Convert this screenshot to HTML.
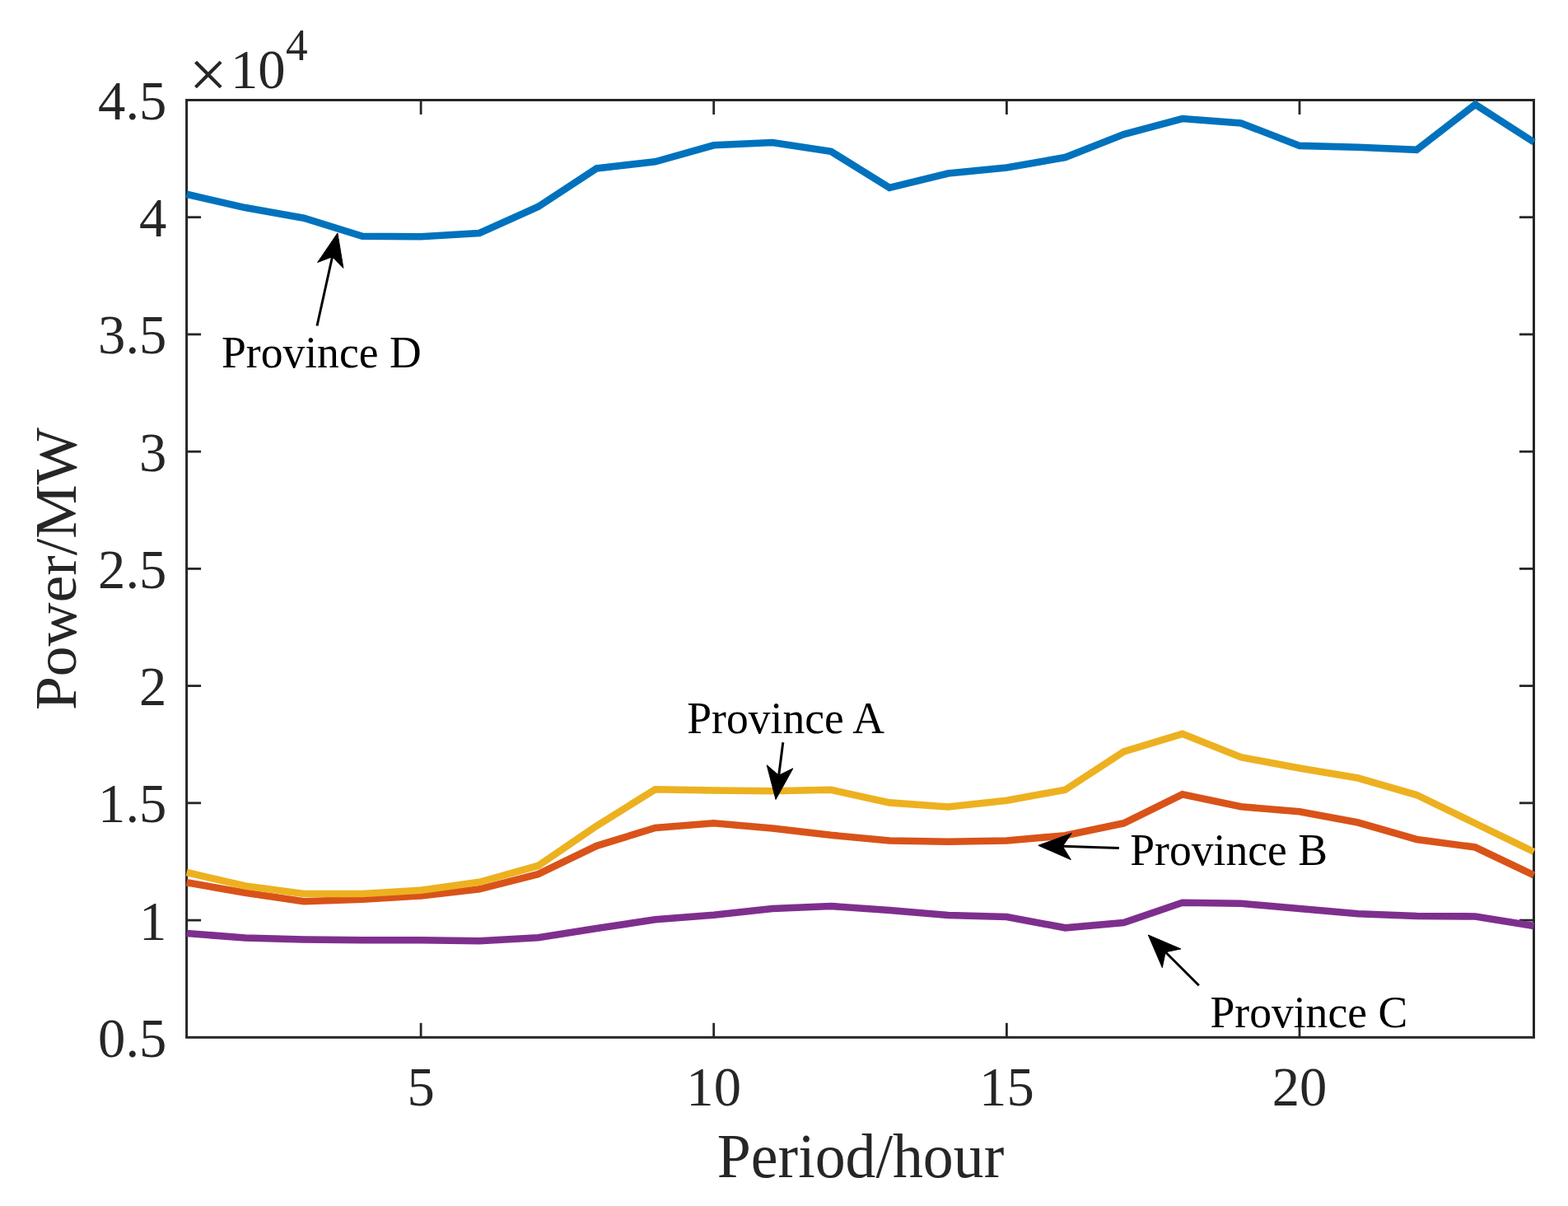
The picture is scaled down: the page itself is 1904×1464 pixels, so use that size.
<!DOCTYPE html>
<html lang="en"><head><meta charset="utf-8"><title>Power by province</title>
<style>html,body{margin:0;padding:0;background:#fff;}body{width:1904px;height:1464px;overflow:hidden;}svg{display:block;}text{font-family:"Liberation Serif","Times New Roman",serif;}</style>
</head><body>
<svg width="1904" height="1464" viewBox="0 0 1904 1464">
<rect x="0" y="0" width="1904" height="1464" fill="#fff"/>
<g stroke="#262626" stroke-width="3" fill="none" stroke-linecap="butt"><rect x="226.6" y="121.5" width="1635.9" height="1137.8"/><line x1="511.1" y1="1259.3" x2="511.1" y2="1241.8" stroke-width="2.8"/><line x1="511.1" y1="121.5" x2="511.1" y2="139.0" stroke-width="2.8"/><line x1="866.7" y1="1259.3" x2="866.7" y2="1241.8" stroke-width="2.8"/><line x1="866.7" y1="121.5" x2="866.7" y2="139.0" stroke-width="2.8"/><line x1="1222.4" y1="1259.3" x2="1222.4" y2="1241.8" stroke-width="2.8"/><line x1="1222.4" y1="121.5" x2="1222.4" y2="139.0" stroke-width="2.8"/><line x1="1578.0" y1="1259.3" x2="1578.0" y2="1241.8" stroke-width="2.8"/><line x1="1578.0" y1="121.5" x2="1578.0" y2="139.0" stroke-width="2.8"/><line x1="226.6" y1="263.7" x2="244.1" y2="263.7" stroke-width="2.8"/><line x1="1862.5" y1="263.7" x2="1845.0" y2="263.7" stroke-width="2.8"/><line x1="226.6" y1="405.9" x2="244.1" y2="405.9" stroke-width="2.8"/><line x1="1862.5" y1="405.9" x2="1845.0" y2="405.9" stroke-width="2.8"/><line x1="226.6" y1="548.2" x2="244.1" y2="548.2" stroke-width="2.8"/><line x1="1862.5" y1="548.2" x2="1845.0" y2="548.2" stroke-width="2.8"/><line x1="226.6" y1="690.4" x2="244.1" y2="690.4" stroke-width="2.8"/><line x1="1862.5" y1="690.4" x2="1845.0" y2="690.4" stroke-width="2.8"/><line x1="226.6" y1="832.6" x2="244.1" y2="832.6" stroke-width="2.8"/><line x1="1862.5" y1="832.6" x2="1845.0" y2="832.6" stroke-width="2.8"/><line x1="226.6" y1="974.8" x2="244.1" y2="974.8" stroke-width="2.8"/><line x1="1862.5" y1="974.8" x2="1845.0" y2="974.8" stroke-width="2.8"/><line x1="226.6" y1="1117.1" x2="244.1" y2="1117.1" stroke-width="2.8"/><line x1="1862.5" y1="1117.1" x2="1845.0" y2="1117.1" stroke-width="2.8"/></g>
<g>
<polyline points="226.6,235.8 297.7,252.1 368.9,264.7 440.0,286.8 511.1,287.3 582.2,283.0 653.4,251.0 724.5,204.5 795.6,196.3 866.7,176.3 937.9,173.0 1009.0,183.8 1080.1,228.0 1151.2,210.5 1222.4,203.5 1293.5,191.0 1364.6,163.0 1435.7,144.0 1506.9,149.4 1578.0,176.9 1649.1,178.8 1720.2,181.8 1791.4,126.8 1862.5,172.5" fill="none" stroke="#0072BD" stroke-width="8.6" stroke-linejoin="miter" stroke-miterlimit="10" stroke-linecap="butt"/>
<polyline points="226.6,1071.3 297.7,1083.7 368.9,1094.3 440.0,1091.8 511.1,1087.5 582.2,1079.3 653.4,1061.1 724.5,1026.8 795.6,1005.0 866.7,999.3 937.9,1005.5 1009.0,1013.8 1080.1,1020.5 1151.2,1021.8 1222.4,1020.5 1293.5,1014.3 1364.6,999.3 1435.7,964.3 1506.9,979.3 1578.0,985.3 1649.1,998.5 1720.2,1019.0 1791.4,1028.5 1862.5,1062.3" fill="none" stroke="#D95319" stroke-width="8.6" stroke-linejoin="miter" stroke-miterlimit="10" stroke-linecap="butt"/>
<polyline points="226.6,1059.0 297.7,1075.5 368.9,1085.0 440.0,1085.0 511.1,1080.7 582.2,1070.8 653.4,1051.0 724.5,1002.5 795.6,958.3 866.7,959.5 937.9,960.3 1009.0,958.8 1080.1,974.4 1151.2,979.5 1222.4,971.8 1293.5,958.8 1364.6,912.5 1435.7,890.8 1506.9,919.2 1578.0,932.5 1649.1,944.5 1720.2,965.0 1791.4,999.5 1862.5,1034.0" fill="none" stroke="#EDB120" stroke-width="8.6" stroke-linejoin="miter" stroke-miterlimit="10" stroke-linecap="butt"/>
<polyline points="226.6,1133.0 297.7,1138.5 368.9,1140.5 440.0,1141.3 511.1,1141.3 582.2,1142.3 653.4,1138.2 724.5,1127.0 795.6,1116.3 866.7,1110.8 937.9,1103.0 1009.0,1100.0 1080.1,1105.0 1151.2,1111.0 1222.4,1113.0 1293.5,1126.3 1364.6,1120.0 1435.7,1095.8 1506.9,1096.8 1578.0,1103.0 1649.1,1109.3 1720.2,1112.0 1791.4,1112.5 1862.5,1123.9" fill="none" stroke="#7E2F8E" stroke-width="8.6" stroke-linejoin="miter" stroke-miterlimit="10" stroke-linecap="butt"/>
</g>
<g><text transform="translate(202.4,145.0) scale(1,1.025)" font-size="66.67px" text-anchor="end" fill="#262626">4.5</text><text transform="translate(202.4,287.2) scale(1,1.025)" font-size="66.67px" text-anchor="end" fill="#262626">4</text><text transform="translate(202.4,429.4) scale(1,1.025)" font-size="66.67px" text-anchor="end" fill="#262626">3.5</text><text transform="translate(202.4,571.7) scale(1,1.025)" font-size="66.67px" text-anchor="end" fill="#262626">3</text><text transform="translate(202.4,713.9) scale(1,1.025)" font-size="66.67px" text-anchor="end" fill="#262626">2.5</text><text transform="translate(202.4,856.1) scale(1,1.025)" font-size="66.67px" text-anchor="end" fill="#262626">2</text><text transform="translate(202.4,998.3) scale(1,1.025)" font-size="66.67px" text-anchor="end" fill="#262626">1.5</text><text transform="translate(202.4,1140.6) scale(1,1.025)" font-size="66.67px" text-anchor="end" fill="#262626">1</text><text transform="translate(202.4,1282.8) scale(1,1.025)" font-size="66.67px" text-anchor="end" fill="#262626">0.5</text><text transform="translate(511.1,1341.8) scale(1,1.025)" font-size="66.67px" text-anchor="middle" fill="#262626">5</text><text transform="translate(866.7,1341.8) scale(1,1.025)" font-size="66.67px" text-anchor="middle" fill="#262626">10</text><text transform="translate(1222.4,1341.8) scale(1,1.025)" font-size="66.67px" text-anchor="middle" fill="#262626">15</text><text transform="translate(1578.0,1341.8) scale(1,1.025)" font-size="66.67px" text-anchor="middle" fill="#262626">20</text><text transform="translate(229.4,117.5)" font-size="82.5px" text-anchor="start" fill="#262626">×</text><text transform="translate(280.0,107.0) scale(1,1.030)" font-size="66.67px" text-anchor="start" fill="#262626">10</text><text transform="translate(347.0,72.9) scale(1,1.030)" font-size="53.33px" text-anchor="start" fill="#262626">4</text></g>
<g>
<text transform="translate(1045.0,1428.5) scale(1,1.030)" font-size="73.8px" text-anchor="middle" fill="#262626">Period/hour</text>
<text transform="translate(92.3,690.6) rotate(-90) scale(1,0.990)" font-size="73.5px" text-anchor="middle" fill="#262626">Power/MW</text>
</g>
<g>
<text transform="translate(269.0,446.1) scale(1,1.020)" font-size="53.6px" text-anchor="start" fill="#000">Province D</text>
<text transform="translate(834.3,889.7) scale(1,1.020)" font-size="53.6px" text-anchor="start" fill="#000">Province A</text>
<text transform="translate(1372.3,1049.6) scale(1,1.020)" font-size="53.6px" text-anchor="start" fill="#000">Province B</text>
<text transform="translate(1469.5,1246.7) scale(1,1.020)" font-size="53.6px" text-anchor="start" fill="#000">Province C</text>
</g>
<g>
<line x1="385.0" y1="395.5" x2="403.5" y2="311.7" stroke="#000" stroke-width="3.0"/><polygon points="409.9,282.9 416.9,325.4 403.5,311.7 385.6,318.5" fill="#000" stroke="#000" stroke-width="1" stroke-linejoin="miter"/>
<line x1="950.8" y1="901.3" x2="945.7" y2="941.2" stroke="#000" stroke-width="3.0"/><polygon points="942.0,970.5 931.2,928.8 945.7,941.2 962.9,932.8" fill="#000" stroke="#000" stroke-width="1" stroke-linejoin="miter"/>
<line x1="1358.8" y1="1029.5" x2="1290.3" y2="1027.3" stroke="#000" stroke-width="3.0"/><polygon points="1260.8,1026.3 1301.3,1011.6 1290.3,1027.3 1300.3,1043.6" fill="#000" stroke="#000" stroke-width="1" stroke-linejoin="miter"/>
<line x1="1455.8" y1="1196.3" x2="1415.2" y2="1155.8" stroke="#000" stroke-width="3.0"/><polygon points="1394.3,1135.0 1433.9,1151.9 1415.2,1155.8 1411.3,1174.6" fill="#000" stroke="#000" stroke-width="1" stroke-linejoin="miter"/>
</g>
</svg>
</body></html>
